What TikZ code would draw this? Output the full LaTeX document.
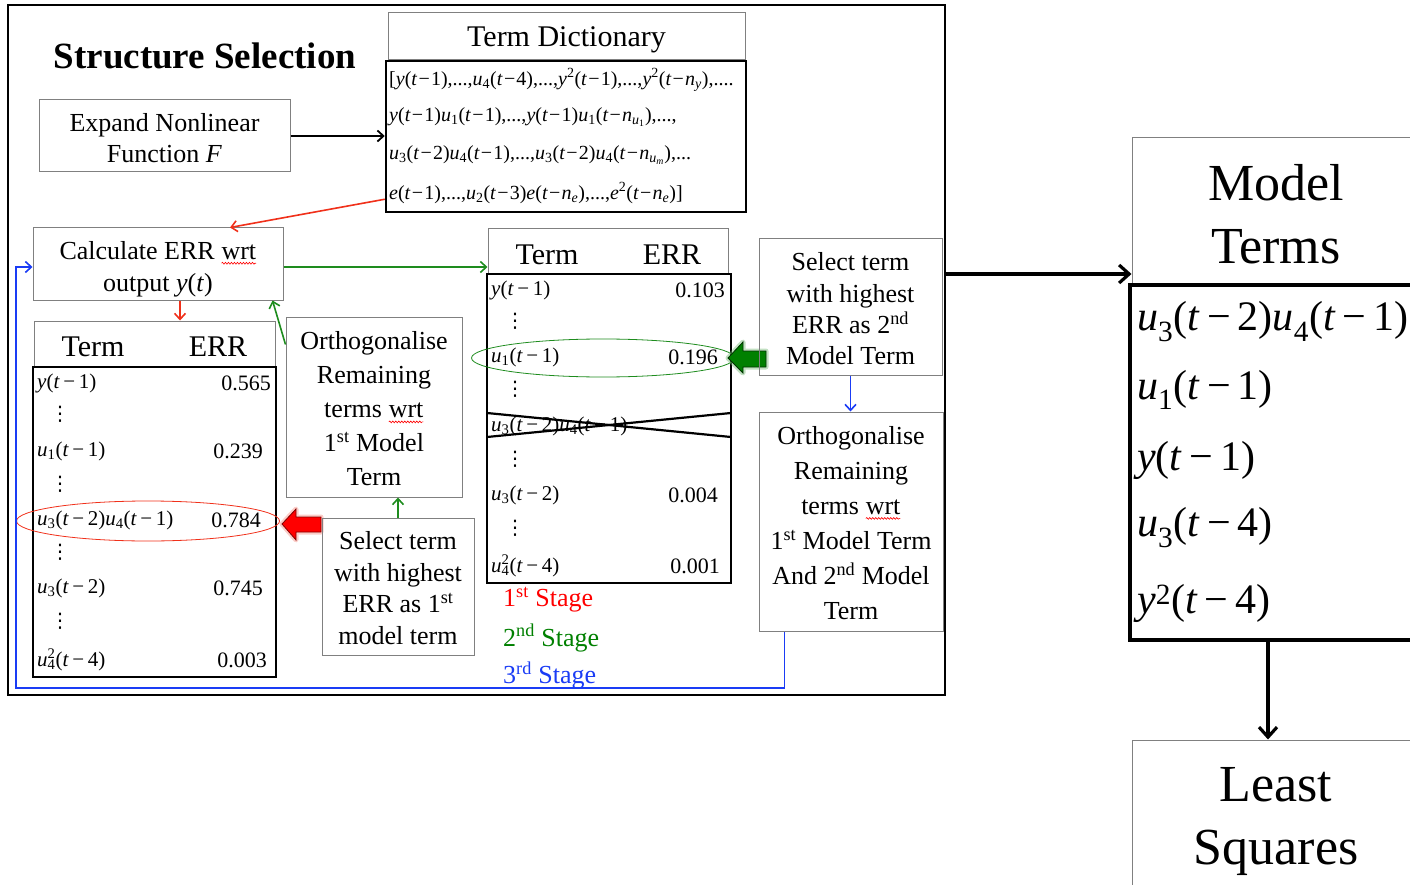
\documentclass[tikz,border=0pt]{standalone}
\usepackage{fontspec}
\setmainfont{Liberation Serif}
\newfontfamily\dvfont{DejaVu Sans}
\usetikzlibrary{arrows.meta,shapes.geometric,decorations.pathmorphing}
\definecolor{rd}{HTML}{F0301A}
\definecolor{gn}{HTML}{1E8C1E}
\definecolor{bl}{HTML}{1A3CF5}
\definecolor{gr}{HTML}{808080}
\definecolor{stg}{HTML}{008000}
\newcommand{\I}[1]{\textit{#1}}
\newcommand{\mn}{\kern.17em−\kern.17em}
\newcommand{\tk}[1]{(\I{t}\mn#1)}
\newcommand{\dk}[1]{(\I{t}\kern.06em−\kern.06em#1)}
\newcommand{\ssb}[2]{\rlap{\textsuperscript{#1}}\textsubscript{#2}}
\newcommand{\vd}{{\dvfont ⋮}}
\newcommand{\wrt}{\tikz[baseline=(w.base)]{\node[inner sep=0pt,outer sep=0pt,anchor=base](w){wrt};\draw[red,line width=0.6pt,decorate,decoration={snake,amplitude=0.9pt,segment length=3pt}]([yshift=-4pt]w.base west)--([yshift=-4pt]w.base east);}}
\begin{document}
\begin{tikzpicture}[x=1pt,y=-1pt,
  box/.style={draw=gr, line width=1pt, inner sep=0pt, align=center},
  tbl/.style={draw=black, line width=2.5pt, inner sep=0pt},
  txt/.style={font=\fontsize{26}{32}\selectfont, align=center, inner sep=0pt},
  hdr/.style={font=\fontsize{30}{34}\selectfont, inner sep=0pt},
  rowt/.style={font=\fontsize{21}{24}\selectfont, inner sep=0pt, anchor=west},
  valt/.style={font=\fontsize{22}{24}\selectfont, inner sep=0pt, anchor=east},
  dts/.style={font=\fontsize{20}{22}\selectfont, inner sep=0pt},
  dict/.style={font=\fontsize{20}{24}\selectfont, inner sep=0pt, anchor=west},
  big/.style={font=\fontsize{52}{63}\selectfont, align=center, inner sep=0pt},
  mt/.style={font=\fontsize{42}{48}\selectfont, inner sep=0pt, anchor=west},
  arr/.style={-{Straight Barb[length=6pt,width=11pt]}, line width=1.6pt},
  stage/.style={font=\fontsize{26}{30}\selectfont, inner sep=0pt, anchor=west}
]
\useasboundingbox (0,0) rectangle (1410,885);
% outer frame
\node[draw, line width=1.5pt, minimum width=937, minimum height=690, inner sep=0pt] (frame) at (476.5,350) {};
\node[font=\fontsize{37}{42}\selectfont\bfseries, inner sep=0pt] (title) at (205,56) {Structure Selection};
% term dictionary
\node[box, minimum width=357, minimum height=47] (tdh) at (566.5,36.5) {};
\node[hdr] (tdht) at (566.5,40) {Term Dictionary};
\node[tbl, minimum width=360, minimum height=151] (dict) at (566,136.5) {};
\node[dict] (d1) at (389,80) {[\I{y}\dk{1},...,\I{u}\textsubscript{4}\dk{4},...,\I{y}\textsuperscript{2}\dk{1},...,\I{y}\textsuperscript{2}\dk{\I{n}\textsubscript{\I{y}}},....};
\node[dict] (d2) at (389,117) {\I{y}\dk{1}\I{u}\textsubscript{1}\dk{1},...,\I{y}\dk{1}\I{u}\textsubscript{1}\dk{\I{n}\textsubscript{\I{u}\textsubscript{1}}},...,};
\node[dict] (d3) at (389,155) {\I{u}\textsubscript{3}\dk{2}\I{u}\textsubscript{4}\dk{1},...,\I{u}\textsubscript{3}\dk{2}\I{u}\textsubscript{4}\dk{\I{n}\textsubscript{\I{u}\textsubscript{\I{m}}}},...};
\node[dict] (d4) at (389,193) {\I{e}\dk{1},...,\I{u}\textsubscript{2}\dk{3}\I{e}\dk{\I{n}\textsubscript{\I{e}}},...,\I{e}\textsuperscript{2}\dk{\I{n}\textsubscript{\I{e}}}]};
% expand
\node[box, minimum width=251, minimum height=72] (expand) at (164.5,136) {};
\node[txt, font=\fontsize{26}{31}\selectfont] (expandt) at (164.5,138) {Expand Nonlinear\\Function \I{F}};
\draw[arr, line width=1.8pt] (expand.east) -- (expand.east -| dict.west);
% calculate
\node[box, minimum width=250, minimum height=72] (calc) at (158,264) {};
\node[txt] (calct) at (158,269) {Calculate ERR \wrt\\output \I{y}(\I{t})};
\coordinate (rs) at ([yshift=14pt]dict.south west);
\coordinate (rt) at ([xshift=72pt]calc.north);
\draw[arr, rd] (rs) -- (rt);
% left table
\node[box, minimum width=241, minimum height=46] (lhdr) at (154.5,344) {};
\node[hdr] (lh1) at (93,347) {Term};
\node[hdr] (lh2) at (218,347) {ERR};
\coordinate (c1) at ([xshift=22pt]calc.south);
\draw[arr, rd] (c1) -- (c1 |- lhdr.north);
\node[tbl, minimum width=243, minimum height=310] (ltab) at (154.5,522) {};
\node[rowt] (lt1) at (37,383) {\I{y}\tk{1}};
\node[valt] (lv1) at (271,383) {0.565};
\node[dts] (ld1) at (60,414) {\vd};
\node[rowt] (lt2) at (37,451) {\I{u}\textsubscript{1}\tk{1}};
\node[valt] (lv2) at (263,451) {0.239};
\node[dts] (ld2) at (60,484) {\vd};
\node[rowt] (lt3) at (37,520) {\I{u}\textsubscript{3}\tk{2}\I{u}\textsubscript{4}\tk{1}};
\node[valt] (lv3) at (261,520) {0.784};
\node[dts] (ld3) at (60,552) {\vd};
\node[rowt] (lt4) at (37,588) {\I{u}\textsubscript{3}\tk{2}};
\node[valt] (lv4) at (263,588) {0.745};
\node[dts] (ld4) at (60,621) {\vd};
\node[rowt] (lt5) at (37,660) {\I{u}\ssb{2}{4}\tk{4}};
\node[valt] (lv5) at (267,660) {0.003};
\node[draw=rd, line width=0.8pt, ellipse, minimum width=263, minimum height=40, inner sep=0pt] (e1) at (148,521) {};
% red block arrow
\draw[rd!60, opacity=0.4, line width=5pt, line join=round] (282,524) -- (296,509) -- (296,517) -- (321,517) -- (321,532) -- (296,532) -- (296,540) -- cycle;
\draw[fill=red, draw=red!50!black, line width=0.8pt] (282,524) -- (296,509) -- (296,517) -- (321,517) -- (321,532) -- (296,532) -- (296,540) -- cycle;
% orth1
\node[box, minimum width=176, minimum height=180] (orth1) at (374,407) {};
\node[txt, font=\fontsize{26}{34}\selectfont] (orth1t) at (374,409) {Orthogonalise\\Remaining\\terms \wrt\\1\textsuperscript{st} Model\\Term};
\coordinate (g1) at ([yshift=-28pt]orth1.north west);
\coordinate (g2) at ([xshift=-11pt]calc.south east);
\draw[arr, gn] (g1) -- (g2);
% select1
\node[box, minimum width=152, minimum height=137] (sel1) at (398,586.5) {};
\node[txt, font=\fontsize{26}{31.7}\selectfont] (sel1t) at (398,588) {Select term\\with highest\\ERR as 1\textsuperscript{st}\\model term};
\draw[arr, gn] (sel1.north) -- (sel1.north |- orth1.south);
% middle table
\node[box, minimum width=240, minimum height=45] (mhdr) at (608,251.5) {};
\node[hdr] (mh1) at (547,255) {Term};
\node[hdr] (mh2) at (672,255) {ERR};
\coordinate (c2) at ([yshift=-3pt]calc.east);
\draw[arr, gn] (c2) -- (c2 -| mhdr.west);
\node[tbl, minimum width=244, minimum height=309] (mtab) at (609,428.5) {};
\node[rowt] (mt1) at (491,290) {\I{y}\tk{1}};
\node[valt] (mv1) at (725,290) {0.103};
\node[dts] (md1) at (515,321) {\vd};
\node[rowt] (mt2) at (491,357) {\I{u}\textsubscript{1}\tk{1}};
\node[valt] (mv2) at (718,357) {0.196};
\node[dts] (md2) at (515,389) {\vd};
\node[rowt] (mt3) at (491,426) {\I{u}\textsubscript{3}\tk{2}\I{u}\textsubscript{4}\tk{1}};
\draw[line width=2.2pt] (487,413) -- (731,437);
\draw[line width=2.2pt] (487,437) -- (731,413);
\node[dts] (md3) at (515,459) {\vd};
\node[rowt] (mt4) at (491,495) {\I{u}\textsubscript{3}\tk{2}};
\node[valt] (mv4) at (718,495) {0.004};
\node[dts] (md4) at (515,528) {\vd};
\node[rowt] (mt5) at (491,566) {\I{u}\ssb{2}{4}\tk{4}};
\node[valt] (mv5) at (720,566) {0.001};
\node[draw=gn, line width=0.8pt, ellipse, minimum width=263, minimum height=38, inner sep=0pt] (e2) at (603,358) {};
% green block arrow
\draw[gn!60, opacity=0.45, line width=5pt, line join=round] (728,358) -- (743,342) -- (743,351) -- (766,351) -- (766,367) -- (743,367) -- (743,373) -- cycle;
\draw[fill=stg, draw=green!20!black, line width=0.8pt] (728,358) -- (743,342) -- (743,351) -- (766,351) -- (766,367) -- (743,367) -- (743,373) -- cycle;
% stages
\node[stage, text=red] (s1) at (503,600) {1\textsuperscript{st} Stage};
\node[stage, text=stg] (s2) at (503,638) {2\textsuperscript{nd} Stage};
\node[stage, text=bl] (s3) at (503,675) {3\textsuperscript{rd} Stage};
% select2
\node[box, minimum width=183, minimum height=136] (sel2) at (850.5,307) {};
\node[txt, font=\fontsize{26}{31.3}\selectfont] (sel2t) at (850.5,309) {Select term\\with highest\\ERR as 2\textsuperscript{nd}\\Model Term};
% orth2
\node[box, minimum width=184, minimum height=219] (orth2) at (851,521.5) {};
\node[txt, font=\fontsize{26}{35}\selectfont] (orth2t) at (851,523) {Orthogonalise\\Remaining\\terms \wrt\\1\textsuperscript{st} Model Term\\And 2\textsuperscript{nd} Model\\Term};
\draw[arr, bl] (sel2.south) -- (sel2.south |- orth2.north);
% blue loop
\coordinate (b0) at ([xshift=26pt]orth2.south west);
\coordinate (b1) at (16,688);
\coordinate (b2) at ([yshift=-3pt]calc.west);
\draw[arr, bl] (b0) |- (b1) |- (b2);
% model terms
\node[box, minimum width=288, minimum height=147] (mhd) at (1276,211.5) {};
\node[big] (mhdt) at (1276,214) {Model\\Terms};
\node[draw, line width=4pt, minimum width=290, minimum height=355, inner sep=0pt] (mlist) at (1275,462.5) {};
\node[mt] (m1) at (1137,322) {\I{u}\textsubscript{3}\tk{2}\I{u}\textsubscript{4}\tk{1}};
\node[mt] (m2) at (1137,390) {\I{u}\textsubscript{1}\tk{1}};
\node[mt] (m3) at (1137,460) {\I{y}\tk{1}};
\node[mt] (m4) at (1137,528) {\I{u}\textsubscript{3}\tk{4}};
\node[mt] (m5) at (1137,603) {\I{y}\textsuperscript{2}\tk{4}};
\coordinate (a1) at ([yshift=76pt]frame.east);
\draw[-{Straight Barb[length=10pt,width=18pt]}, line width=3.2pt] (a1) -- (a1 -| mhd.west);
% least squares
\node[box, minimum width=288, minimum height=160] (lsq) at (1276,820) {};
\node[big] (lsqt) at (1276,822) {Least\\Squares};
\coordinate (a2) at ([xshift=-7pt]mlist.south);
\draw[-{Straight Barb[length=10pt,width=18pt]}, line width=3.2pt] (a2) -- (a2 |- lsq.north);
\end{tikzpicture}
\end{document}
